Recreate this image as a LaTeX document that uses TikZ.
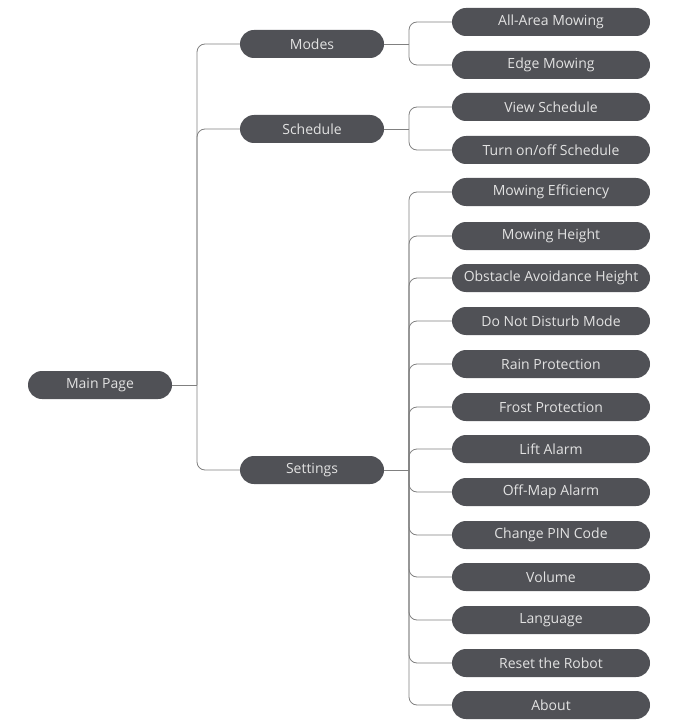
\documentclass[tikz,border=0pt]{standalone}
\usepackage{fontspec}
\setmainfont{Open Sans}
\begin{document}
\begin{tikzpicture}[x=1pt,y=-1pt,
  box/.style={rounded corners=14pt,fill=boxc,text=txtc,minimum height=28pt,inner sep=0pt,font=\fontsize{14}{16}\selectfont},
  mid/.style={box,minimum width=144pt},
  leaf/.style={box,minimum width=198pt},
  ln/.style={draw=linec,line width=0.8pt,rounded corners=8pt}]
\definecolor{boxc}{HTML}{505156}
\definecolor{txtc}{HTML}{E2E2E2}
\definecolor{linec}{HTML}{808080}
\useasboundingbox (0,0) rectangle (672,722);
\node[box,minimum width=144pt] (main) at (100,385) {Main Page};
\node[mid] (mo) at (312,44) {Modes};
\node[mid] (sc) at (312,129) {Schedule};
\node[mid] (st) at (312,470) {Settings};
\coordinate (j1) at (197,385);
\coordinate (jm) at (409,44);
\coordinate (js) at (409,129);
\coordinate (jt) at (409,470);
\node[leaf] (a1) at (551,22) {All-Area Mowing};
\node[leaf] (a2) at (551,65) {Edge Mowing};
\node[leaf] (b1) at (551,107) {View Schedule};
\node[leaf] (b2) at (551,150) {Turn on/off Schedule};
\foreach \n/\y/\t in {c1/192/Mowing Efficiency,c2/236/Mowing Height,c3/278/Obstacle Avoidance Height,c4/321/Do Not Disturb Mode,c5/364/Rain Protection,c6/407/Frost Protection,c7/449/Lift Alarm,c8/492/Off-Map Alarm,c9/535/Change PIN Code,c10/577/Volume,c11/620/Language,c12/663/Reset the Robot,c13/705/About}{
  \node[leaf] (\n) at (551,\y) {\t};
  \draw[ln] (\n.west) -| (jt);
}
\draw[ln] (main.east) -- (j1);
\foreach \n in {mo,sc,st} \draw[ln] (\n.west) -| (j1);
\draw[ln] (mo.east) -- (jm);
\draw[ln] (a1.west) -| (jm);
\draw[ln] (a2.west) -| (jm);
\draw[ln] (sc.east) -- (js);
\draw[ln] (b1.west) -| (js);
\draw[ln] (b2.west) -| (js);
\draw[ln] (st.east) -- (jt);
\end{tikzpicture}
\end{document}
